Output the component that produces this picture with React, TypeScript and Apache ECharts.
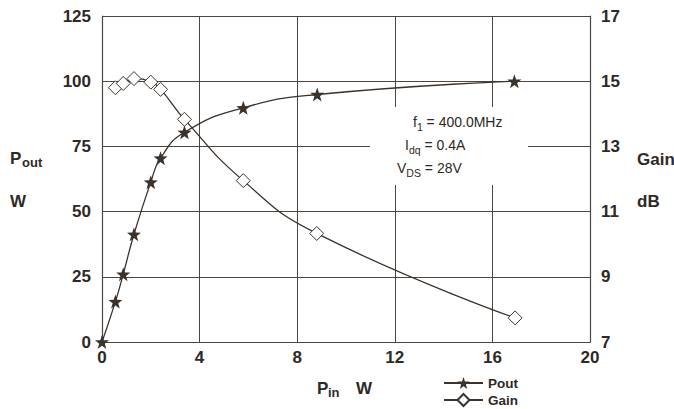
import React, { useEffect, useRef } from "react";
import * as echarts from "echarts";

// Data
const pinW = [0, 0.55, 0.87, 1.31, 2.0, 2.4, 3.38, 5.79, 8.82, 16.9];
const poutW = [0, 15.5, 26, 41.3, 61.3, 70.5, 80.4, 89.8, 94.9, 100];
const gainPin = [0.55, 0.87, 1.31, 2.0, 2.4, 3.38, 5.79, 8.8, 16.93];
const gainDb = [14.8, 14.93, 15.08, 14.97, 14.75, 13.83, 11.95, 10.33, 7.74];

const xTicks = { min: 0, max: 20, interval: 4 };
const leftTicks = { min: 0, max: 125, interval: 25 };
const rightTicks = { min: 7, max: 17, interval: 2 };

const seriesNames = ["Pout", "Gain"];
const noteLines = [
  { main: "f", sub: "1", rest: " = 400.0MHz" },
  { main: "I", sub: "dq", rest: " = 0.4A" },
  { main: "V", sub: "DS", rest: " = 28V" },
];

const FONT = "'Liberation Sans', Arial, Helvetica, sans-serif";
const INK = "#2e2925";
const LINE = "#3a322b";
const GRID = "#4d4640";
const STAR =
  "path://M0,-10 L2.35,-3.24 L9.51,-3.09 L3.8,1.24 L5.88,8.09 L0,4 L-5.88,8.09 L-3.8,1.24 L-9.51,-3.09 L-2.35,-3.24 Z";

export default function App() {
  const ref = useRef<HTMLDivElement>(null);
  useEffect(() => {
    if (!ref.current) return;
    const chart = echarts.init(ref.current, undefined, { renderer: "svg" });
    const labelStyle = {
      color: INK,
      fontFamily: FONT,
      fontWeight: "bold" as const,
      fontSize: 17,
    };
    const noteRich = {
      n: { fontFamily: FONT, fontSize: 14, lineHeight: 20, fill: INK },
      s: {
        fontFamily: FONT,
        fontSize: 10.5,
        lineHeight: 10,
        verticalAlign: "bottom",
        fill: INK,
      },
    };
    const noteX = [413, 405, 397];
    const noteY = [122, 145, 168];
    const titleText = (text: string, x: number, y: number, size: number) => ({
      type: "text",
      x,
      y,
      z: 100,
      style: {
        text,
        fontFamily: FONT,
        fontWeight: "bold",
        fontSize: size,
        fill: INK,
        verticalAlign: "middle",
        align: "left",
      },
    });
    chart.setOption({
      animation: false,
      backgroundColor: "#ffffff",
      grid: { left: 102, top: 16, right: 84, bottom: 67, containLabel: false },
      xAxis: {
        type: "value",
        min: xTicks.min,
        max: xTicks.max,
        interval: xTicks.interval,
        axisLine: { show: true, lineStyle: { color: GRID, width: 1.2 } },
        axisTick: { show: false },
        axisLabel: { ...labelStyle, margin: 7 },
        splitLine: { show: true, lineStyle: { color: GRID, width: 1 } },
      },
      yAxis: [
        {
          type: "value",
          min: leftTicks.min,
          max: leftTicks.max,
          interval: leftTicks.interval,
          axisLine: { show: true, lineStyle: { color: GRID, width: 1.2 } },
          axisTick: { show: false },
          axisLabel: { ...labelStyle, margin: 11 },
          splitLine: { show: true, lineStyle: { color: GRID, width: 1 } },
        },
        {
          type: "value",
          position: "right",
          min: rightTicks.min,
          max: rightTicks.max,
          interval: rightTicks.interval,
          axisLine: { show: true, lineStyle: { color: GRID, width: 1.2 } },
          axisTick: { show: false },
          axisLabel: { ...labelStyle, margin: 11 },
          splitLine: { show: false },
        },
      ],
      legend: {
        data: seriesNames,
        orient: "vertical",
        left: 443,
        top: 376,
        itemWidth: 39,
        itemHeight: 15,
        itemGap: 3,
        padding: 0,
        textStyle: {
          color: INK,
          fontFamily: FONT,
          fontWeight: "bold",
          fontSize: 13.5,
        },
      },
      series: [
        {
          name: seriesNames[0],
          type: "line",
          yAxisIndex: 0,
          smooth: 0.5,
          symbol: STAR,
          symbolSize: 14,
          itemStyle: { color: LINE },
          lineStyle: { color: LINE, width: 1.3 },
          data: pinW.map((x, i) => [x, poutW[i]]),
          z: 3,
        },
        {
          name: seriesNames[1],
          type: "line",
          yAxisIndex: 1,
          smooth: 0.5,
          symbol: "diamond",
          symbolSize: 14,
          itemStyle: { color: "#ffffff", borderColor: LINE, borderWidth: 1 },
          lineStyle: { color: LINE, width: 1.3 },
          data: gainPin.map((x, i) => [x, gainDb[i]]),
          z: 4,
        },
      ],
      graphic: [
        {
          type: "rect",
          z: 50,
          shape: { x: 370, y: 107, width: 158, height: 78 },
          style: { fill: "#ffffff" },
        },
        ...noteLines.map((l, i) => ({
          type: "text",
          x: noteX[i],
          y: noteY[i],
          z: 100,
          style: {
            text: `{n|${l.main}}{s|${l.sub}}{n|${l.rest}}`,
            rich: noteRich,
            verticalAlign: "middle",
            align: "left",
          },
        })),
        titleText("P", 10, 158.5, 17),
        titleText("out", 22, 162, 13),
        titleText("W", 10, 201, 17),
        titleText("Gain", 637, 159.5, 17),
        titleText("dB", 637, 201, 17),
        titleText("P", 317, 388.5, 17),
        titleText("in", 328, 392, 13),
        titleText("W", 356, 388.5, 17),
      ],
    });
    return () => chart.dispose();
  }, []);
  return (
    <div
      ref={ref}
      style={{ position: "fixed", left: 0, top: 0, width: 674, height: 409 }}
    />
  );
}
